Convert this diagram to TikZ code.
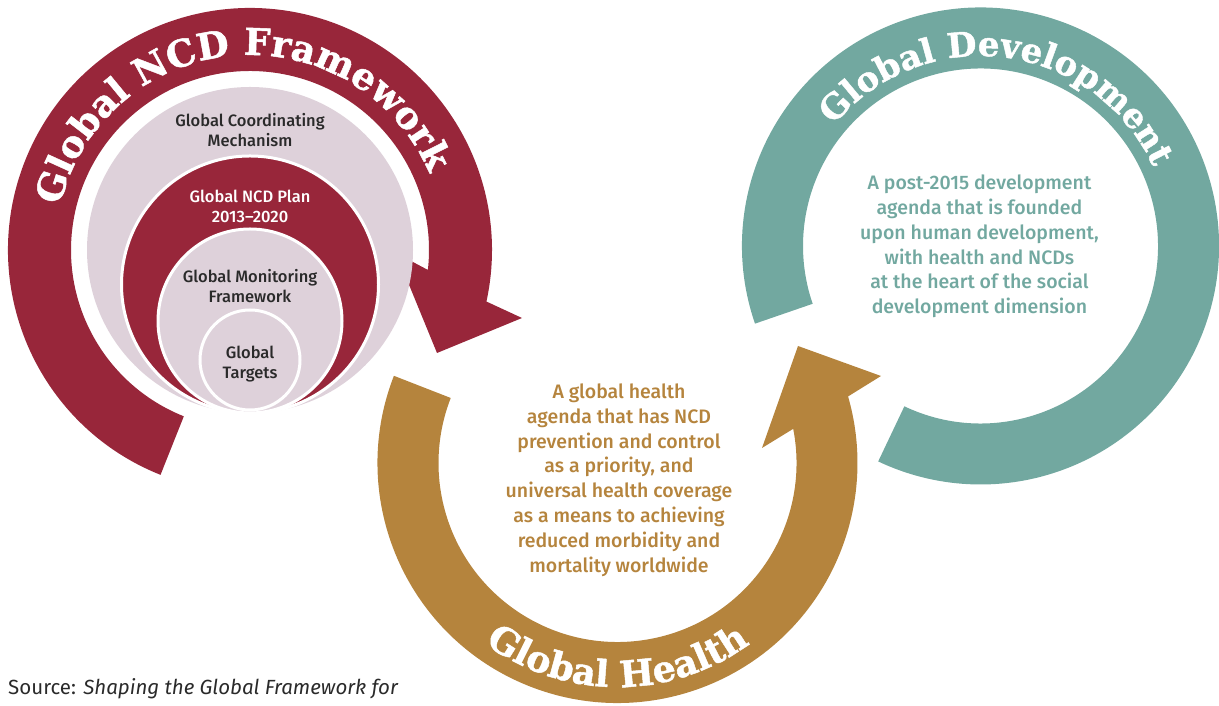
\documentclass[tikz,border=0pt]{standalone}
\usepackage{fontspec}
\setmainfont{Fira Sans}
\newfontfamily\slabfont[BoldFeatures={FakeBold=1.3}]{DejaVu Serif}
\IfFontExistsTF{Fira Sans Medium}{\newfontfamily\medfont{Fira Sans Medium}}{\newfontfamily\medfont{Fira Sans}}
\usetikzlibrary{decorations.text}

\definecolor{ncdred}{HTML}{98263A}
\definecolor{ncdpink}{HTML}{DED1DA}
\definecolor{healthgold}{HTML}{B5843D}
\definecolor{devteal}{HTML}{72A8A0}
\definecolor{labelgray}{HTML}{2A2A2A}

\tikzset{
    ring/.style={draw=white, line width=3pt},
    circlelabel/.style={align=center, text=labelgray, font=\medfont\fontsize{16.5}{20}\selectfont},
    bodytext/.style={align=center, font=\medfont\fontsize{19.5}{24.8}\selectfont},
}

\begin{document}
\begin{tikzpicture}[x=1pt, y=1pt]
    \useasboundingbox (0,0) rectangle (1219,706);
    \coordinate (ncd) at (250,456);
    \coordinate (health) at (617.5,243);
    \coordinate (dev) at (980.5,460);

    \fill[ncdred] (ncd) ++(248.3:242) arc[start angle=248.3, end angle=-12.3, radius=242]
        -- (522,388) -- (437,353) -- (396,453)
        -- ([shift={(-6.4:179)}]ncd) arc[start angle=-6.4, end angle=248.3, radius=179] -- cycle;
    \fill[healthgold] (health) ++(158.7:240) arc[start angle=158.7, end angle=376.1, radius=240]
        -- (881,330) -- (798,360) -- (762,258)
        -- ([shift={(11:179)}]health) arc[start angle=371, end angle=158.7, radius=179] -- cycle;
    \fill[devteal] (dev) ++(199:238.5) arc[start angle=199, end angle=-115.4, radius=238.5]
        -- ([shift={(-115.4:177.5)}]dev) arc[start angle=-115.4, end angle=199, radius=177.5] -- cycle;

    \fill[ncdpink] (ncd) circle[radius=163];
    \draw[ring, fill=ncdred] (250,421.5) circle[radius=128.5];
    \draw[ring, fill=ncdpink] (250,385) circle[radius=92];
    \draw[ring, fill=ncdpink] (250,346) circle[radius=50];

    \path[decorate, decoration={text along path, text align=center, text color=white,
        text={|\slabfont\bfseries\fontsize{37}{37}\selectfont|Global NCD Framework}}]
        (ncd) ++(175:195) arc[start angle=175, end angle=15, radius=195];
    \path[decorate, decoration={text along path, text align=center, text color=white,
        text={|\slabfont\bfseries\fontsize{36.5}{36.5}\selectfont|Global Health}}]
        (health) ++(200:224) arc[start angle=200, end angle=340, radius=224];
    \path[decorate, decoration={text along path, text align=center, text color=white,
        text={|\slabfont\bfseries\fontsize{34}{34}\selectfont|Global Development}}]
        (dev) ++(162.5:190) arc[start angle=162.5, end angle=2.5, radius=190];

    \node[circlelabel] (coordmech) at (250,576) {Global Coordinating\\Mechanism};
    \node[circlelabel, text=white] (ncdplan) at (250,499.5) {Global NCD Plan\\2013\textendash 2020};
    \node[circlelabel] (monitor) at (250,419.5) {Global Monitoring\\Framework};
    \node[circlelabel] (targets) at (250,341.5) {Global\\Targets};

    \node[bodytext, text=healthgold] (healthtext) at (619,226) {A global health\\agenda that has NCD\\prevention and control\\as a priority, and\\universal health coverage\\as a means to achieving\\reduced morbidity and\\mortality worldwide};
    \node[bodytext, text=devteal] (devtext) at (979.5,459.5) {A post-2015 development\\agenda that is founded\\upon human development,\\with health and NCDs\\at the heart of the social\\development dimension};

    \node[anchor=base west, text=labelgray, font=\fontsize{20.5}{20.5}\selectfont, inner sep=0pt] (source) at (8,11) {Source: \textit{Shaping the Global Framework for}};
\end{tikzpicture}
\end{document}
